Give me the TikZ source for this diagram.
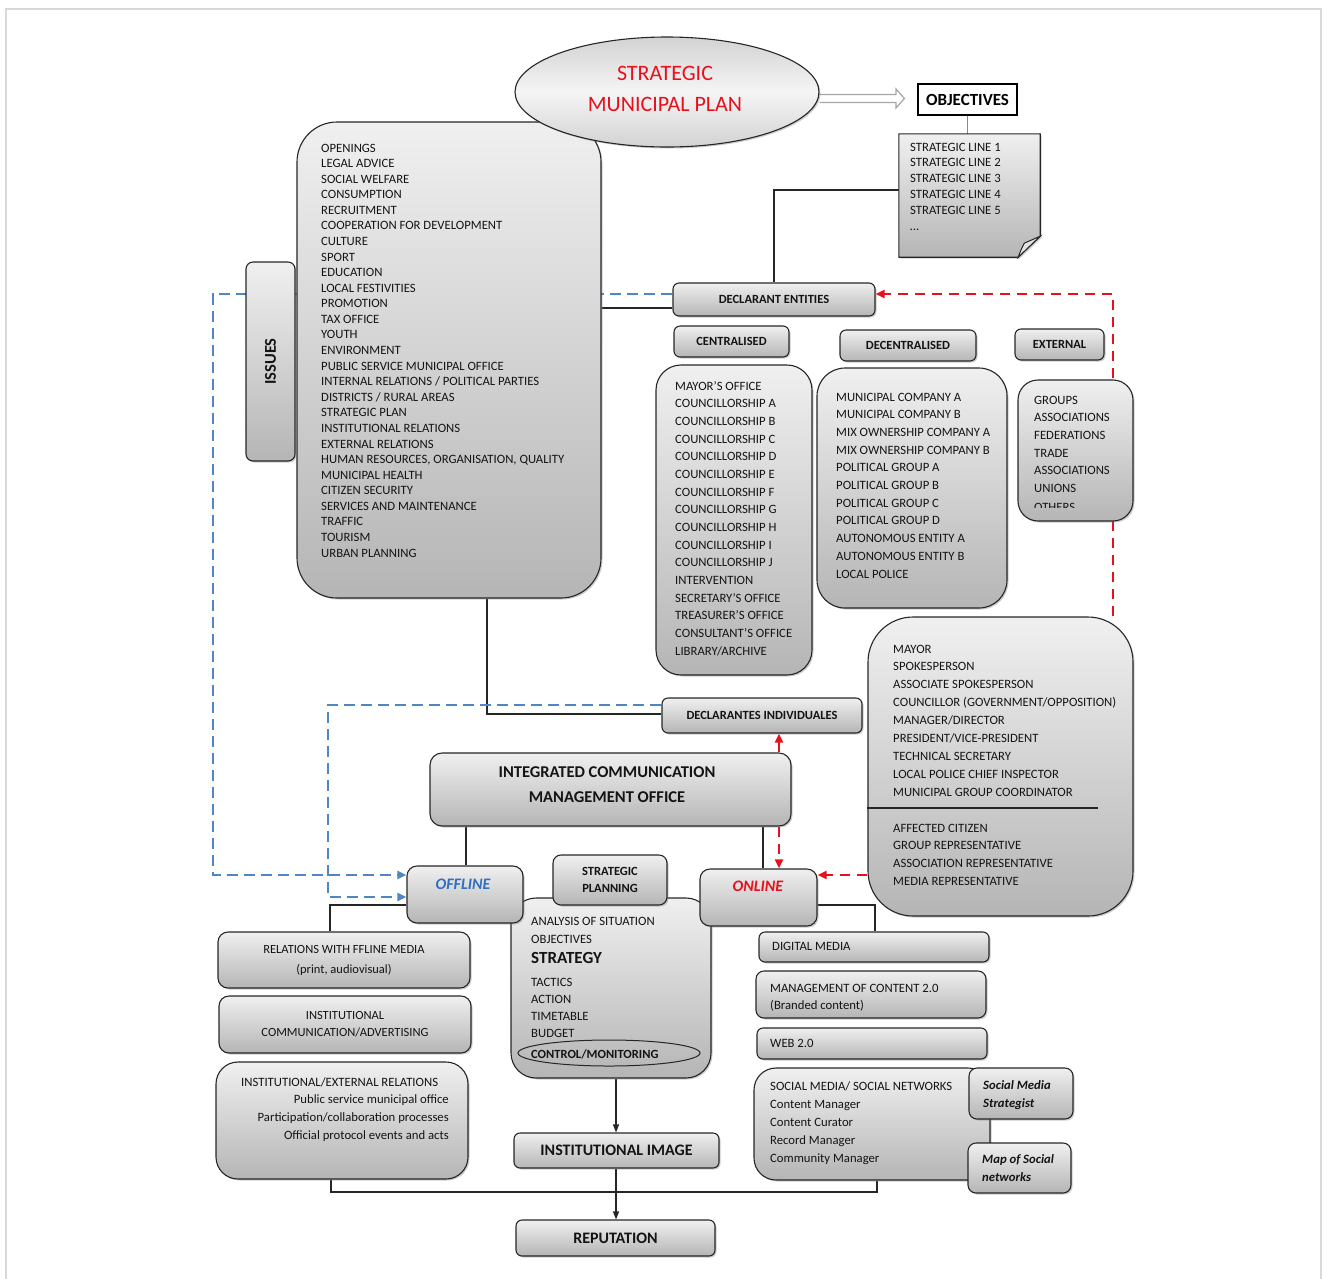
\documentclass[tikz,border=0pt]{standalone}
\usepackage{fontspec}
\setmainfont{Carlito}
\usetikzlibrary{shapes.geometric,arrows.meta,shadows,calc}
\pgfdeclarelayer{bg}
\pgfsetlayers{bg,main}

\definecolor{ink}{HTML}{141414}
\definecolor{dashblue}{HTML}{4F86C6}
\definecolor{dashred}{HTML}{E8101C}
\definecolor{offblue}{HTML}{2E6FC0}
\definecolor{linkblue}{HTML}{5B8FD0}

\newcommand\lf{\fontsize{12.7}{15}\selectfont}
\newcommand\hdB{\bfseries\fontsize{12.5}{18}\selectfont}
\newcommand\hdL{\bfseries\fontsize{16.5}{25}\selectfont}

\tikzset{
  panel/.style={draw=black!85, line width=1.1pt, top color=gray!12, bottom color=gray!58,
    drop shadow={shadow xshift=1.5pt, shadow yshift=-1.5pt, opacity=0.4},
    inner sep=0pt, text=ink, align=center},
  listtext/.style={font=\lf, text=ink, inner sep=0pt},
  conn/.style={draw=black!85, line width=1.1pt},
  arr/.style={conn, -{Triangle[length=8pt,width=6pt]}},
  bluedash/.style={draw=dashblue, line width=2.6pt, dash pattern=on 11pt off 6pt,
    -{Triangle[length=9pt,width=8pt]}},
  reddash/.style={draw=dashred, line width=2.6pt, dash pattern=on 10pt off 7pt},
  redtip/.style={-{Triangle[length=9pt,width=8pt]}},
}

% rounded panel from its corners: [style]{name}{x1}{y1}{x2}{y2}{text}
\newcommand\rbox[7][]{\node[panel,#1,minimum width={#5-#3},minimum height={#6-#4}]
  (#2) at ({(#3+#5)/2},{(#4+#6)/2}) {#7};}
% left-aligned list: {name}{x}{centre of first line}{line step}{items}
\newcommand\itemlist[5]{\foreach \itm [count=\i] in {#5}
  \node[listtext, anchor=base west] (#1-\i) at (#2,{#3+4+(\i-1)*#4}) {\itm};}

\begin{document}
\begin{tikzpicture}[x=1pt,y=-1pt]
\useasboundingbox (0,0) rectangle (1327,1278);
\draw[gray!30, line width=2.2pt] (6,9) rectangle (1321,1300);

% ---------- issues ----------
\rbox[rounded corners=40pt]{issues}{297}{122}{601}{598}{}
\rbox[rounded corners=7pt]{tab}{246}{262}{295}{461}{\rotatebox{90}{\bfseries\fontsize{16.5}{18}\selectfont ISSUES}}
\itemlist{iss}{321}{148}{15.58}{OPENINGS, LEGAL ADVICE, SOCIAL WELFARE, CONSUMPTION, RECRUITMENT,
  COOPERATION FOR DEVELOPMENT, CULTURE, SPORT, EDUCATION, LOCAL FESTIVITIES, PROMOTION,
  TAX OFFICE, YOUTH, ENVIRONMENT, PUBLIC SERVICE MUNICIPAL OFFICE,
  INTERNAL RELATIONS / POLITICAL PARTIES, DISTRICTS / RURAL AREAS, STRATEGIC PLAN,
  INSTITUTIONAL RELATIONS, EXTERNAL RELATIONS, {HUMAN RESOURCES, ORGANISATION, QUALITY},
  MUNICIPAL HEALTH, CITIZEN SECURITY, SERVICES AND MAINTENANCE, TRAFFIC, TOURISM, URBAN PLANNING}

% ---------- plan and objectives ----------
\node[ellipse, draw=black!85, line width=1.1pt, minimum width=304pt, minimum height=110pt,
  top color=gray!35, bottom color=gray!35, middle color=gray!8,
  drop shadow={shadow xshift=1.5pt, shadow yshift=-1.5pt, opacity=0.4},
  align=center, inner sep=0pt] (smp) at (667,92) {};
\node[text=dashred, align=center, font=\fontsize{22}{31}\selectfont, inner sep=0pt]
  (smp-t) at (665,88.5) {STRATEGIC\\MUNICIPAL PLAN};
\node[draw=black, line width=1.2pt, fill=white, minimum width=99pt, minimum height=31pt,
  inner sep=0pt, font=\bfseries\fontsize{17}{20}\selectfont] (obj) at (967.5,99.5) {OBJECTIVES};

\node[minimum width=141pt, minimum height=123pt, inner sep=0pt] (doc) at (969.5,195.5) {};
\path[draw=black!85, line width=1.1pt, top color=gray!12, bottom color=gray!58,
  drop shadow={shadow xshift=1.5pt, shadow yshift=-1.5pt, opacity=0.4}]
  (doc.north west) -- (doc.north east) -- ([yshift=21pt]doc.south east)
  -- ([xshift=-22pt]doc.south east) -- (doc.south west) -- cycle;
\draw[draw=black!85, line width=1pt, fill=gray!22]
  ([xshift=-22pt]doc.south east) .. controls ([xshift=-19pt,yshift=8pt]doc.south east)
  .. ([xshift=-16pt,yshift=14pt]doc.south east) -- ([yshift=21pt]doc.south east) -- cycle;
\itemlist{sl}{910}{147}{15.8}{STRATEGIC LINE 1, STRATEGIC LINE 2, STRATEGIC LINE 3,
  STRATEGIC LINE 4, STRATEGIC LINE 5}
\node[listtext, anchor=base west] (sl-6) at (910,230) {\ldots};

% ---------- declarant entities ----------
\rbox[rounded corners=6pt, font=\hdB]{declE}{673}{283}{875}{316}{DECLARANT ENTITIES}
\rbox[rounded corners=6pt, font=\hdB]{cent}{674}{326}{789}{357}{CENTRALISED}
\rbox[rounded corners=6pt, font=\hdB]{decent}{840}{330}{976}{361}{DECENTRALISED}
\rbox[rounded corners=6pt, font=\hdB]{ext}{1015}{329}{1104}{360}{EXTERNAL}

\rbox[rounded corners=25pt]{centL}{656}{365}{812}{675}{}
\itemlist{cl}{675}{386}{17.67}{MAYOR'S OFFICE, COUNCILLORSHIP A, COUNCILLORSHIP B,
  COUNCILLORSHIP C, COUNCILLORSHIP D, COUNCILLORSHIP E, COUNCILLORSHIP F, COUNCILLORSHIP G,
  COUNCILLORSHIP H, COUNCILLORSHIP I, COUNCILLORSHIP J, INTERVENTION, SECRETARY'S OFFICE,
  TREASURER'S OFFICE, CONSULTANT'S OFFICE, LIBRARY/ARCHIVE}

\rbox[rounded corners=28pt]{decL}{817}{368}{1007}{608}{}
\itemlist{dl}{836}{397}{17.7}{MUNICIPAL COMPANY A, MUNICIPAL COMPANY B,
  MIX OWNERSHIP COMPANY A, MIX OWNERSHIP COMPANY B, POLITICAL GROUP A, POLITICAL GROUP B,
  POLITICAL GROUP C, POLITICAL GROUP D, AUTONOMOUS ENTITY A, AUTONOMOUS ENTITY B, LOCAL POLICE}

\rbox[rounded corners=20pt]{extL}{1018}{380}{1133}{521}{}
\itemlist{el}{1034}{400}{17.7}{GROUPS, ASSOCIATIONS, FEDERATIONS, TRADE, ASSOCIATIONS, UNIONS}
\begin{scope}
  \clip (1018,380) rectangle (1133,507);
  \node[listtext, anchor=base west] (el-7) at (1034,511) {OTHERS};
\end{scope}

% ---------- individual declarants ----------
\rbox[rounded corners=45pt]{mayor}{868}{617}{1133}{916}{}
\itemlist{ml}{893}{649}{17.875}{MAYOR, SPOKESPERSON, ASSOCIATE SPOKESPERSON,
  COUNCILLOR (GOVERNMENT/OPPOSITION), MANAGER/DIRECTOR, PRESIDENT/VICE-PRESIDENT,
  TECHNICAL SECRETARY, LOCAL POLICE CHIEF INSPECTOR, MUNICIPAL GROUP COORDINATOR}
\draw[conn] (mayor.west |- 0,808) -- (1098,808);
\itemlist{cl2}{893}{828}{17.7}{AFFECTED CITIZEN, GROUP REPRESENTATIVE,
  ASSOCIATION REPRESENTATIVE, MEDIA REPRESENTATIVE}

\rbox[rounded corners=6pt, font=\hdB]{declI}{662}{698}{862}{733}{DECLARANTES INDIVIDUALES}

% ---------- communication office ----------
\rbox[rounded corners=12pt]{icmo}{430}{753}{791}{826}{}
\node[font=\hdL, text=ink, align=center, inner sep=0pt] (icmo-t) at (607,784.5)
  {INTEGRATED COMMUNICATION\\MANAGEMENT OFFICE};

\rbox[rounded corners=25pt]{strat}{511}{898}{711}{1078}{}
\rbox[rounded corners=8pt, font=\hdB]{splan}{553}{855}{667}{905}{STRATEGIC\\[-1pt]PLANNING}
\rbox[rounded corners=10pt]{offline}{407}{866}{523}{923}{}
\node[font=\bfseries\itshape\fontsize{16}{18}\selectfont, text=offblue] (offline-t) at (463,884) {OFFLINE};
\rbox[rounded corners=10pt]{online}{700}{869}{817}{926}{}
\node[font=\bfseries\itshape\fontsize{16}{18}\selectfont, text=dashred] (online-t) at (758,886) {ONLINE};

\itemlist{st}{531}{921}{18}{ANALYSIS OF SITUATION, OBJECTIVES}
\node[listtext, anchor=base west, font=\bfseries\fontsize{17}{20}\selectfont] (st-s) at (531,963.5) {STRATEGY};
\itemlist{st2}{531}{982}{17.3}{TACTICS, ACTION, TIMETABLE, BUDGET}
\node[ellipse, draw=black!85, line width=1pt, minimum width=182pt, minimum height=26pt,
  inner sep=0pt] (ctrl) at (609,1053) {};
\node[listtext, anchor=base west, font=\bfseries\fontsize{12.5}{14}\selectfont] (ctrl-t)
  at (531,1058) {CONTROL/MONITORING};

\rbox[rounded corners=6pt, font=\bfseries\fontsize{16}{18}\selectfont]{instImg}{514}{1133}{719}{1168}{INSTITUTIONAL IMAGE}
\rbox[rounded corners=6pt, font=\bfseries\fontsize{16}{18}\selectfont]{rep}{516}{1220}{715}{1256}{REPUTATION}

% ---------- offline channels ----------
\rbox[rounded corners=10pt, font=\fontsize{12.5}{20}\selectfont]{relOff}{218}{932}{470}{988}{RELATIONS WITH FFLINE MEDIA\\(print, audiovisual)}
\rbox[rounded corners=10pt, font=\fontsize{12.5}{17}\selectfont]{instCom}{219}{996}{471}{1053}{INSTITUTIONAL\\COMMUNICATION/ADVERTISING}
\rbox[rounded corners=22pt]{instExt}{216}{1062}{468}{1179}{}
\node[listtext, anchor=base west] (ie-1) at (241,1086) {INSTITUTIONAL/EXTERNAL RELATIONS};
\foreach \itm [count=\i] in {Public service municipal office,
  Participation/collaboration processes, Official protocol events and acts}
  \node[listtext, anchor=base east] (ie-r\i) at (449,{1103+(\i-1)*18}) {\itm};

% ---------- online channels ----------
\rbox[rounded corners=6pt]{digital}{759}{932}{989}{962}{}
\node[listtext, anchor=base west] (digital-t) at (772,950) {DIGITAL MEDIA};
\rbox[rounded corners=8pt]{mgmt}{756}{971}{986}{1018}{}
\itemlist{mg}{770}{988}{17}{MANAGEMENT OF CONTENT 2.0, (Branded content)}
\rbox[rounded corners=6pt]{web}{757}{1028}{987}{1059}{}
\node[listtext, anchor=base west] (web-t) at (770,1047) {WEB 2.0};
\rbox[rounded corners=22pt]{social}{754}{1068}{990}{1180}{}
\itemlist{sm}{770}{1086}{18}{SOCIAL MEDIA/ SOCIAL NETWORKS, Content Manager, Content Curator,
  Record Manager, Community Manager}
\rbox[rounded corners=8pt]{sms}{969}{1068}{1073}{1119}{}
\itemlist{smt}{983}{1085}{18}{\textbf{\textit{Social Media}}, \textbf{\textit{Strategist}}}
\rbox[rounded corners=8pt]{map}{968}{1143}{1071}{1193}{}
\itemlist{mp}{982}{1159}{18}{\textbf{\textit{Map of Social}}, \textbf{\textit{networks}}}

% ---------- connectors ----------
\begin{pgfonlayer}{bg}
  % hollow block arrow from the plan to the objectives
  \draw[draw=gray!70, line width=1.2pt, fill=white, line join=miter]
    (smp.east |- 0,94.5) -- (896,94.5) -- (896,89) -- ([xshift=-13pt]obj.west |- 0,98.5)
    -- (896,108) -- (896,102.5) -- (smp.east |- 0,102.5);
  \draw[draw=linkblue, line width=1pt] (obj.south) -- (doc.north -| obj.south);
  \draw[conn] (doc.west |- 0,190) -| (declE.north);
  \draw[conn] (issues.east |- 0,308) -- (declE.west |- 0,308);
  \draw[bluedash] (declE.west |- 0,294) -| (213,875) -- (offline.west |- 0,875);
  \draw[reddash, redtip] (mayor.north -| 1113,0) |- (declE.east |- 0,294);
  \draw[conn] (issues.south -| 487,0) |- (declI.west |- 0,714);
  \draw[bluedash] (declI.west |- 0,705) -| (328,897) -- (offline.west |- 0,897);
  \draw[reddash, redtip] (icmo.north -| 779,0) -- (declI.south -| 779,0);
  \draw[reddash, redtip] (icmo.south -| 779,0) -- (online.north -| 779,0);
  \draw[reddash, redtip] (mayor.west |- 0,875) -- (online.east |- 0,875);
  \draw[conn] (icmo.south -| 466,0) -- (offline.north -| 466,0);
  \draw[conn] (icmo.south -| 763,0) -- (online.north -| 763,0);
  \draw[conn] (offline.west |- 0,905) -| (relOff.north -| 330,0);
  \draw[conn] (online.east |- 0,905) -| (digital.north -| 875,0);
  \draw[arr] (strat.south -| 616,0) -- (instImg.north -| 616,0);
  \draw[arr] (instImg.south -| 616,0) -- (rep.north -| 616,0);
  \draw[conn] (instExt.south -| 331,0) |- (877,1192) -- (social.south -| 877,0);
\end{pgfonlayer}
\end{tikzpicture}
\end{document}
